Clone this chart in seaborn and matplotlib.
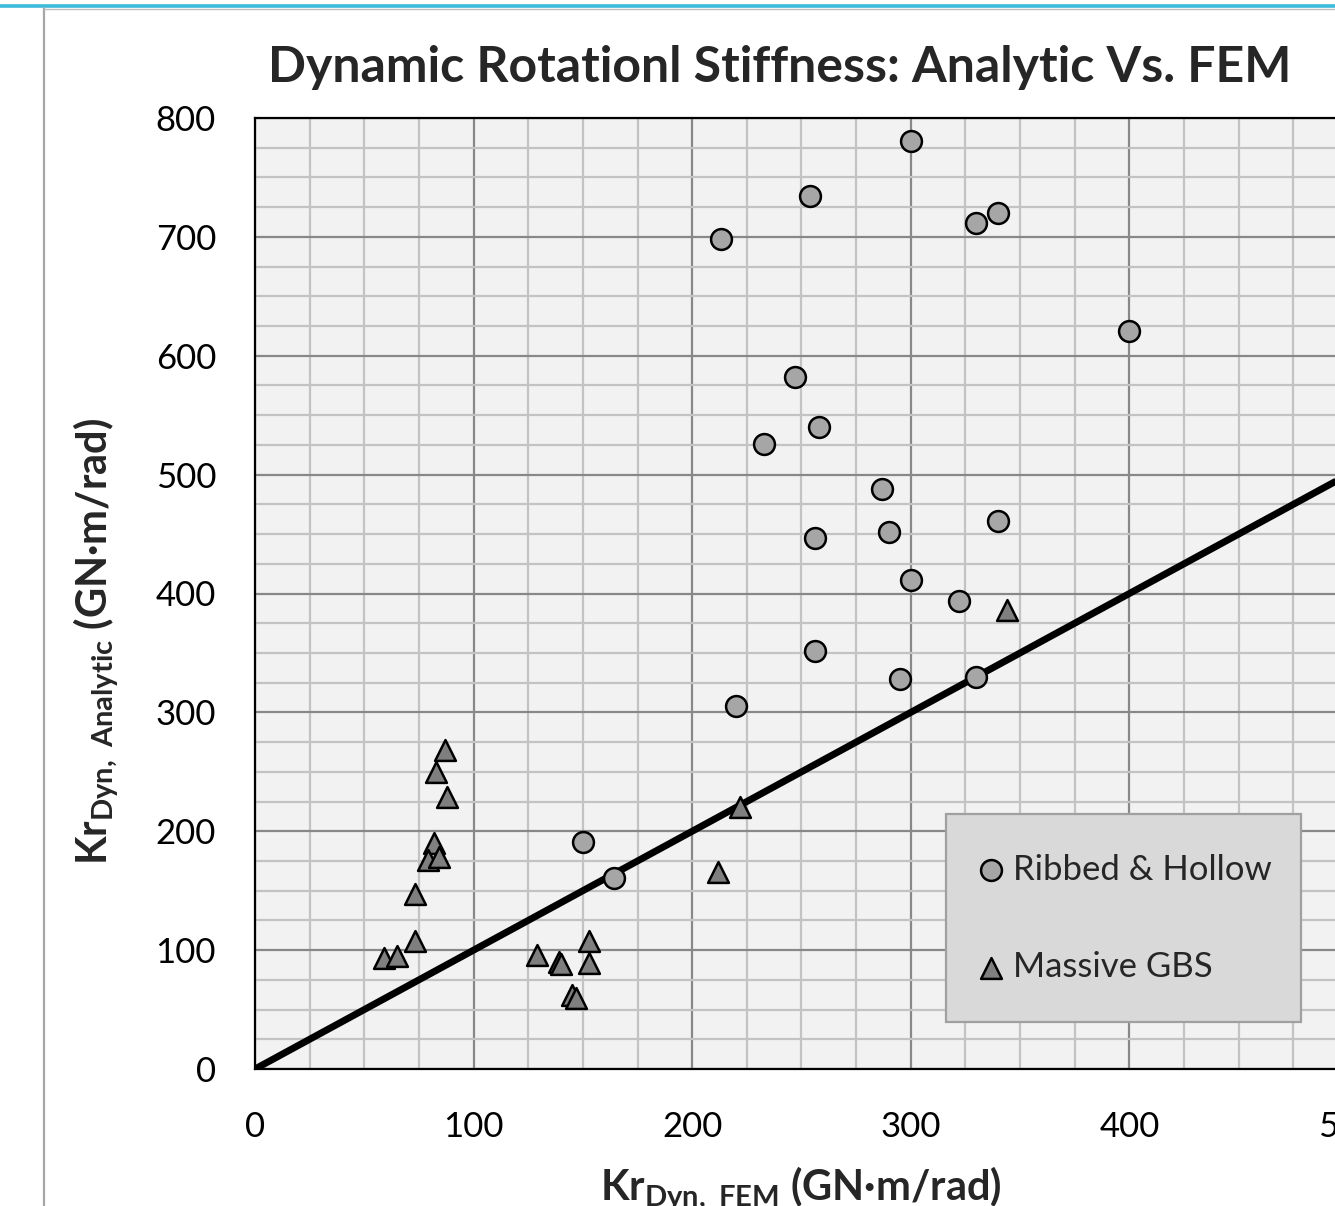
import matplotlib
matplotlib.use("Agg")
import matplotlib.pyplot as plt
from matplotlib.ticker import MultipleLocator
from matplotlib.patches import Rectangle
from matplotlib.lines import Line2D
import seaborn as sns
import pandas as pd

# ---- data ----
rh_x = [300, 254, 213, 330, 340, 400, 247, 233, 258, 287, 290, 256, 340, 300, 322, 256, 295, 330, 220, 150, 164]
rh_y = [781, 734, 698, 712, 720, 621, 582, 526, 540, 488, 452, 447, 461, 411, 394, 352, 328, 330, 305, 191, 161]
gbs_x = [87, 83, 88, 82, 79, 84, 73, 73, 59, 65, 129, 139, 140, 153, 153, 145, 147, 212, 222, 344]
gbs_y = [268, 250, 229, 190, 176, 178, 147, 108, 93, 95, 96, 90, 88, 108, 89, 62, 60, 166, 220, 386]
line_x = [0, 500]
line_y = [0, 500]
x_ticks = [0, 100, 200, 300, 400, 500]
y_ticks = [0, 100, 200, 300, 400, 500, 600, 700, 800]
series_names = ["Ribbed & Hollow", "Massive GBS"]
title = "Dynamic Rotationl Stiffness: Analytic Vs. FEM"

sns.set_style("white")
plt.rcParams["font.family"] = ["Lato", "DejaVu Sans"]
plt.rcParams["mathtext.fontset"] = "custom"
plt.rcParams["mathtext.rm"] = "Lato:bold"
plt.rcParams["mathtext.bf"] = "Lato:bold"
plt.rcParams["mathtext.it"] = "Lato:bold"
plt.rcParams["mathtext.default"] = "regular"

W, H = 1335, 1206
fig = plt.figure(figsize=(W / 100, H / 100), dpi=100)
fig.patch.set_facecolor("white")

# axes placed so that x=500 falls just beyond the right edge (cropped, as in the reference)
ax = fig.add_axes([255 / W, 137 / H, 1093 / W, 951 / H])
ax.set_facecolor("#f2f2f2")

df_rh = pd.DataFrame({"x": rh_x, "y": rh_y, "series": series_names[0]})
df_gbs = pd.DataFrame({"x": gbs_x, "y": gbs_y, "series": series_names[1]})
df_line = pd.DataFrame({"x": line_x, "y": line_y})

sns.lineplot(data=df_line, x="x", y="y", ax=ax, color="black", lw=5.0, zorder=3,
             legend=False, solid_capstyle="butt")
sns.scatterplot(data=df_rh, x="x", y="y", ax=ax, marker="o", s=225, color="#a6a6a6",
                edgecolor="black", linewidth=1.8, zorder=4, label=series_names[0])
sns.scatterplot(data=df_gbs, x="x", y="y", ax=ax, marker="^", s=225, color="#7f7f7f",
                edgecolor="black", linewidth=1.8, zorder=4, label=series_names[1])

ax.set_xlim(0, 500)
ax.set_ylim(0, 800)
ax.set_xticks(x_ticks)
ax.set_yticks(y_ticks)
ax.xaxis.set_minor_locator(MultipleLocator(25))
ax.yaxis.set_minor_locator(MultipleLocator(25))
ax.set_axisbelow(True)
ax.grid(which="minor", color="#c3c3c3", lw=1.6)
ax.grid(which="major", color="#888888", lw=1.6)
ax.tick_params(which="both", length=0)
ax.tick_params(axis="y", labelsize=25, pad=28, colors="black")
ax.tick_params(axis="x", labelsize=25, pad=30, colors="black")
ax.set_xlabel("")
ax.set_ylabel("")
for s in ["left", "bottom", "top"]:
    ax.spines[s].set_color("black")
    ax.spines[s].set_linewidth(1.6)
ax.spines["right"].set_visible(False)

# legend box
lx0 = (946 - 255) / 1093
ly0 = (1069 - 1022) / 951
lw_ = (1301 - 946) / 1093
lh_ = (1022 - 814) / 951
ax.add_patch(Rectangle((lx0, ly0), lw_, lh_, transform=ax.transAxes,
                       facecolor="#d9d9d9", edgecolor="#a0a0a0", lw=1.6, zorder=5))
handles, labels = ax.get_legend_handles_labels()
leg = ax.legend(handles, labels, loc="center left",
                bbox_to_anchor=((975 - 255) / 1093, (1069 - 918.5) / 951),
                frameon=False, fontsize=25, borderpad=0, borderaxespad=0,
                handlelength=0.9, handletextpad=0.2, labelspacing=1.9,
                markerscale=1.0)
leg.set_zorder(6)

# titles / labels
fig.text(779.5 / W, (H - 82) / H, title, ha="center", va="baseline",
         fontsize=36, fontweight="bold")
fig.text(801 / W, (H - 1200) / H, r"Kr$_{\mathrm{Dyn,\ FEM}}$ (GN·m/rad)",
         ha="center", va="baseline", fontsize=30, fontweight="bold")
fig.text(107 / W, (H - 641) / H, r"Kr$_{\mathrm{Dyn,\ Analytic}}$ (GN·m/rad)",
         ha="center", va="baseline", rotation=90, rotation_mode="anchor",
         fontsize=30, fontweight="bold")

# screenshot frame decorations
fig.add_artist(Line2D([0, 1], [(H - 5.5) / H] * 2, transform=fig.transFigure,
                      color="#3dbbdc", lw=2.6))
fig.add_artist(Line2D([43.5 / W, 43.5 / W], [0, (H - 8) / H], transform=fig.transFigure,
                      color="#a6a6a6", lw=1.6))
fig.add_artist(Line2D([43.5 / W, 1], [(H - 8.5) / H] * 2, transform=fig.transFigure,
                      color="#bdbdbd", lw=1.0))

fig.savefig("out.png", dpi=100, facecolor="white")
